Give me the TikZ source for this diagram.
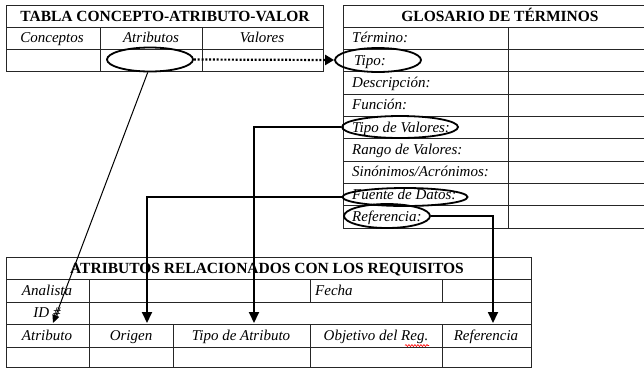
\documentclass[tikz,border=0pt]{standalone}
\usepackage{fontspec}
\setmainfont{Liberation Serif}
\usetikzlibrary{arrows.meta,shapes.geometric,decorations.pathmorphing}
\begin{document}
\begin{tikzpicture}[x=1pt,y=-1pt,
  grid/.style={line width=0.8pt, draw=black!85},
  ttl/.style={font=\fontsize{15.5}{18}\selectfont\bfseries, inner sep=0pt, anchor=mid},
  lbl/.style={font=\fontsize{15}{18}\selectfont\itshape, inner sep=0pt, anchor=mid},
  llbl/.style={lbl, anchor=mid west},
  oval/.style={ellipse, draw, line width=1.8pt, inner sep=0pt},
  conn/.style={line width=1.8pt, -{Triangle[width=10pt,length=11pt]}}]
\useasboundingbox (0,0) rectangle (644,368);
% left table
\draw[grid] (6,5) rectangle (323,71);
\draw[grid] (6,27) -- (323,27) (6,49) -- (323,49) (100,27) -- (100,71) (202,27) -- (202,71);
% glossary
\draw[grid] (644,5) -- (343,5) -- (343,228);
\foreach \y in {27,49.3,71.7,94,116.3,138.7,161,183.3,205.7,228}
  \draw[grid] (343,\y) -- (644,\y);
\draw[grid] (508,27) -- (508,228);
% bottom table
\draw[grid] (6,257) rectangle (531,367);
\foreach \y in {279,302,324,347}
  \draw[grid] (6,\y) -- (531,\y);
\draw[grid] (89,279) -- (89,367) (310,279) -- (310,302) (442,279) -- (442,302)
  (173,324) -- (173,367) (310,324) -- (310,367) (442,324) -- (442,367);
% titles
\node[ttl] (t1) at (165,19.5) {TABLA CONCEPTO-ATRIBUTO-VALOR};
\node[ttl] (t2) at (500,19.5) {GLOSARIO DE TÉRMINOS};
\node[ttl] (t3) at (267,271.5) {ATRIBUTOS RELACIONADOS CON LOS REQUISITOS};
% left table headers
\node[lbl] (c1) at (52,40.5) {Conceptos};
\node[lbl] (c2) at (151,40.5) {Atributos};
\node[lbl] (c3) at (262,40.5) {Valores};
% glossary labels
\node[llbl] (g1) at (352,40.5) {Término:};
\node[llbl] (g2) at (354,63) {Tipo:};
\node[llbl] (g3) at (352,85.3) {Descripción:};
\node[llbl] (g4) at (352,107.5) {Función:};
\node[llbl] (g5) at (352,130) {Tipo de Valores:};
\node[llbl] (g6) at (352,152.3) {Rango de Valores:};
\node[llbl] (g7) at (352,174.5) {Sinónimos/Acrónimos:};
\node[llbl] (g8) at (352,197) {Fuente de Datos:};
\node[llbl] (g9) at (352,219.3) {Referencia:};
% bottom table labels
\node[lbl] (b1) at (47,293) {Analista};
\node[llbl] (b2) at (315,293) {Fecha};
\node[lbl] (b3) at (47,315.5) {ID \#};
\node[lbl] (h1) at (47,338) {Atributo};
\node[lbl] (h2) at (131,338) {Origen};
\node[lbl] (h3) at (241,338) {Tipo de Atributo};
\node[lbl] (h4) at (376,338) {Objetivo del Reg.};
\node[lbl] (h5) at (486,338) {Referencia};
\draw[red, line width=0.6pt, decorate, decoration={snake, amplitude=1pt, segment length=3pt}] (405,345.5) -- (429,345.5);
% ellipses
\node[oval, minimum width=86pt, minimum height=24pt] (ea) at (150,59.5) {};
\node[oval, minimum width=86pt, minimum height=24pt] (etipo) at (378,60) {};
\node[oval, minimum width=116pt, minimum height=22pt] (etv) at (400,127) {};
\node[oval, minimum width=125pt, minimum height=18pt] (efd) at (405,197) {};
\node[oval, minimum width=86pt, minimum height=24pt] (eref) at (387,216) {};
% connector ends
\coordinate (pA) at (53,323);
\coordinate (pO) at (147,323);
\coordinate (pT) at (254,323);
\coordinate (pR) at (493,323);
% connectors
\draw[line width=1pt, -{Triangle[width=7pt,length=8pt]}] (ea.-100) -- (pA);
\draw[conn] (etv.west) -| (pT);
\draw[conn] (efd.west) -| (pO);
\draw[conn] (eref.east) -| (pR);
\draw[line width=2.2pt, dash pattern=on 2pt off 1.8pt, -{Triangle[width=10pt,length=9pt]}] (ea.east) -- (etipo.west);
\end{tikzpicture}
\end{document}
